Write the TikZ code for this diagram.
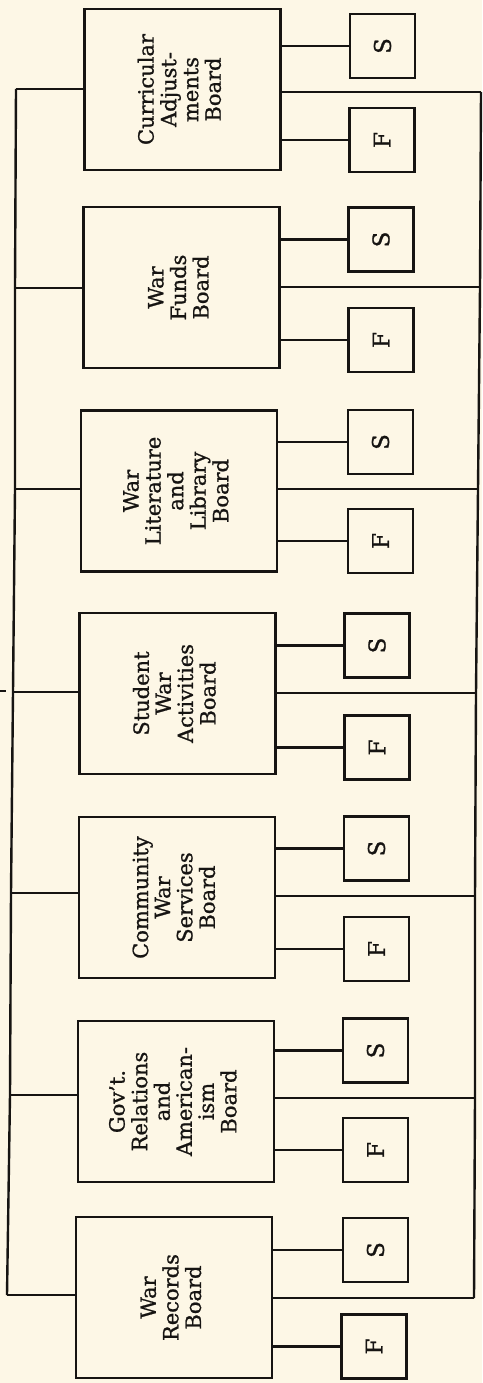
\documentclass[tikz,border=0pt]{standalone}
\usepackage{fontspec}
\setmainfont{DejaVu Serif}
\newfontfamily\chartfont{DejaVu Serif}[FakeBold=1.0]
\definecolor{paper}{RGB}{253,247,230}
\definecolor{ink}{RGB}{22,20,18}
\newcommand{\boardtext}[1]{\rotatebox{90}{\chartfont\fontsize{21}{22}\selectfont\begin{tabular}{@{}c@{}}#1\end{tabular}}}
\newcommand{\boxletter}[1]{\rotatebox{90}{\chartfont\fontsize{23}{26}\selectfont #1}}
\begin{document}
\begin{tikzpicture}[x=1pt,y=-1pt,
  board/.style={draw=ink, line width=2.5pt, minimum width=196pt, minimum height=161pt, inner sep=0pt, text=ink},
  unitbox/.style={draw=ink, line width=2.5pt, minimum width=65pt, minimum height=64pt, inner sep=0pt, text=ink},
  link/.style={draw=ink, line width=2.4pt}]
\fill[paper] (0,0) rectangle (482,1383);
\useasboundingbox (0,0) rectangle (482,1383);

% boards
\node[board] (b1) at (182.5,89.5) {\boardtext{Curricular\\Adjust-\\ments\\Board}};
\node[board] (b2) at (181.5,287.5) {\boardtext{War\\Funds\\Board}};
\node[board] (b3) at (179,491) {\boardtext{War\\Literature\\and\\Library\\Board}};
\node[board] (b4) at (177.5,693.5) {\boardtext{Student\\War\\Activities\\Board}};
\node[board] (b5) at (177,897.5) {\boardtext{Community\\War\\Services\\Board}};
\node[board] (b6) at (176,1101.5) {\boardtext{Gov’t.\\Relations\\and\\American-\\ism\\Board}};
\node[board] (b7) at (174,1297.5) {\boardtext{War\\Records\\Board}};

% S boxes
\node[unitbox] (s1) at (382.5,46) {\boxletter{S}};
\node[unitbox] (s2) at (381,239.5) {\boxletter{S}};
\node[unitbox] (s3) at (380.5,442) {\boxletter{S}};
\node[unitbox] (s4) at (377,645.5) {\boxletter{S}};
\node[unitbox] (s5) at (376.5,848.5) {\boxletter{S}};
\node[unitbox] (s6) at (375.5,1050.5) {\boxletter{S}};
\node[unitbox] (s7) at (375.5,1250) {\boxletter{S}};

% F boxes
\node[unitbox] (f1) at (382,140) {\boxletter{F}};
\node[unitbox] (f2) at (381,340) {\boxletter{F}};
\node[unitbox] (f3) at (380.5,541) {\boxletter{F}};
\node[unitbox] (f4) at (377,747.5) {\boxletter{F}};
\node[unitbox] (f5) at (376.5,949) {\boxletter{F}};
\node[unitbox] (f6) at (375.5,1150) {\boxletter{F}};
\node[unitbox] (f7) at (374,1346.5) {\boxletter{F}};

% left spine junctions
\coordinate (l1) at (16,89);
\coordinate (l2) at (15,288);
\coordinate (l3) at (15,489);
\coordinate (l4) at (13,692);
\coordinate (l5) at (11,893);
\coordinate (l6) at (10,1095);
\coordinate (l7) at (7,1295);
% right spine junctions
\coordinate (r1) at (481,92);
\coordinate (r2) at (480,287);
\coordinate (r3) at (478,489);
\coordinate (r4) at (476,693);
\coordinate (r5) at (475,896);
\coordinate (r6) at (475,1098);
\coordinate (r7) at (474,1298);
% stub at far left
\coordinate (stubA) at (0,691);
\coordinate (stubB) at (6,691);

\draw[link] (l1) -- (l2) -- (l3) -- (l4) -- (l5) -- (l6) -- (l7);
\draw[link] (r1) -- (r2) -- (r3) -- (r4) -- (r5) -- (r6) -- (r7);
\draw[link] (stubA) -- (stubB);

\foreach \i in {1,...,7}{
  \draw[link] (l\i) -- (l\i -| b\i.west);
  \draw[link] (r\i -| b\i.east) -- (r\i);
  \draw[link] (s\i.west -| b\i.east) -- (s\i.west);
  \draw[link] (f\i.west -| b\i.east) -- (f\i.west);
}
\end{tikzpicture}
\end{document}
